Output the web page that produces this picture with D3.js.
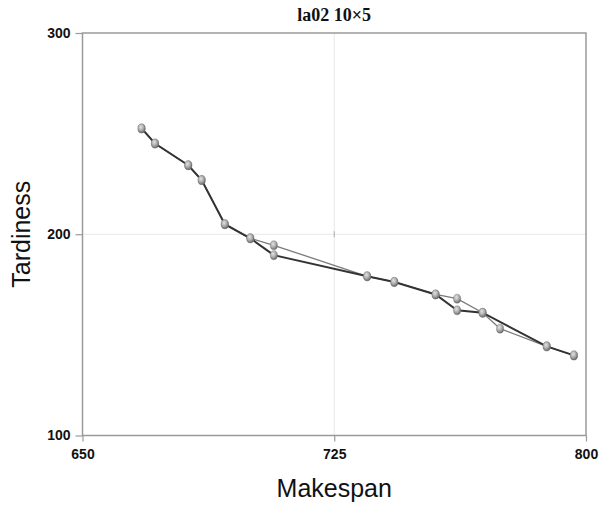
<!DOCTYPE html>
<html><head><meta charset="utf-8">
<script src="https://cdn.jsdelivr.net/npm/d3@7"></script>
<style>body{margin:0;background:#fff}</style>
</head><body>
<svg id="c" width="603" height="506"></svg>
<script>
const title = "la02 10×5";
const xLabel = "Makespan";
const yLabel = "Tardiness";
const xTicks = [650, 725, 800];
const yTicks = [100, 200, 300];
// Series A (darker, thicker line)
const darkMakespan  = [667.6, 671.6, 681.5, 685.5, 692.4, 700.0, 707.0, 734.8, 742.9, 755.2, 761.6, 769.2, 788.3, 796.4];
const darkTardiness = [252.6, 245.1, 234.3, 226.9, 205.0, 198.0, 189.6, 179.1, 176.3, 170.1, 162.2, 161.0, 144.3, 139.8];
// Series B (lighter, thinner line)
const lightMakespan  = [667.6, 671.6, 681.5, 685.5, 692.4, 700.0, 707.0, 734.8, 742.9, 755.2, 761.6, 769.2, 774.4, 788.3, 796.4];
const lightTardiness = [252.6, 245.1, 234.3, 226.9, 205.0, 198.0, 194.5, 179.1, 176.3, 170.1, 168.0, 161.0, 153.1, 144.3, 139.8];

const svg = d3.select("#c");
const L = 82.5, R = 586, T = 33, B = 435.5;
const x = d3.scaleLinear().domain([650, 800]).range([L, R]);
const y = d3.scaleLinear().domain([100, 300]).range([B, T]);

const defs = svg.append("defs");
const g = defs.append("radialGradient").attr("id", "mk").attr("cx", "40%").attr("cy", "35%").attr("r", "65%");
g.append("stop").attr("offset", "0%").attr("stop-color", "#e4e4e4");
g.append("stop").attr("offset", "60%").attr("stop-color", "#a8a8a8");
g.append("stop").attr("offset", "100%").attr("stop-color", "#6a6a6a");

// gridlines
svg.append("line").attr("x1", x(725)).attr("x2", x(725)).attr("y1", T).attr("y2", B).attr("stroke", "#e8e8e8").attr("stroke-width", 1);
svg.append("line").attr("x1", L).attr("x2", R).attr("y1", y(200)).attr("y2", y(200)).attr("stroke", "#e8e8e8").attr("stroke-width", 1);
svg.append("line").attr("x1", x(725)).attr("x2", x(725)).attr("y1", y(200) - 3).attr("y2", y(200) + 3).attr("stroke", "#aaa").attr("stroke-width", 1);

// frame
svg.append("rect").attr("x", L).attr("y", T).attr("width", R - L).attr("height", B - T)
  .attr("fill", "none").attr("stroke", "#9a9a9a").attr("stroke-width", 1.5);

// axes
const fontAxis = "'Liberation Sans', Arial, sans-serif";
const xa = svg.append("g").attr("transform", `translate(0,${B})`)
  .call(d3.axisBottom(x).tickValues(xTicks).tickSize(6).tickPadding(8).tickFormat(d3.format("d")));
const ya = svg.append("g").attr("transform", `translate(${L},0)`)
  .call(d3.axisLeft(y).tickValues(yTicks).tickSize(7).tickPadding(5).tickFormat(d3.format("d")));
[xa, ya].forEach(a => {
  a.select(".domain").remove();
  a.selectAll(".tick line").attr("stroke", "#9a9a9a").attr("stroke-width", 1.2);
  a.selectAll(".tick text").attr("font-family", fontAxis).attr("font-weight", "bold").attr("font-size", 14).attr("fill", "#111");
});

// lines
const line = d3.line().x(d => x(d[0])).y(d => y(d[1]));
const light = lightMakespan.map((v, i) => [v, lightTardiness[i]]);
const dark = darkMakespan.map((v, i) => [v, darkTardiness[i]]);
svg.append("path").datum(light).attr("d", line).attr("fill", "none").attr("stroke", "#7a7a7a").attr("stroke-width", 1.3);
svg.append("path").datum(dark).attr("d", line).attr("fill", "none").attr("stroke", "#333").attr("stroke-width", 2);

// markers
const pts = light.concat(dark);
svg.append("g").selectAll("ellipse").data(pts).join("ellipse")
  .attr("cx", d => x(d[0])).attr("cy", d => y(d[1])).attr("rx", 3.6).attr("ry", 4.5)
  .attr("fill", "url(#mk)").attr("stroke", "#777").attr("stroke-width", 0.4);

// titles
svg.append("text").attr("x", (L + R) / 2).attr("y", 21).attr("text-anchor", "middle")
  .attr("font-family", "'Liberation Serif', 'Times New Roman', serif").attr("font-weight", "bold").attr("font-size", 18).attr("fill", "#111").text(title);
svg.append("text").attr("x", (L + R) / 2).attr("y", 497).attr("text-anchor", "middle")
  .attr("font-family", fontAxis).attr("font-size", 25).attr("fill", "#111").text(xLabel);
svg.append("text").attr("transform", `translate(30,${(T + B) / 2}) rotate(-90)`).attr("text-anchor", "middle")
  .attr("font-family", fontAxis).attr("font-size", 25).attr("fill", "#111").text(yLabel);
</script>
</body></html>
